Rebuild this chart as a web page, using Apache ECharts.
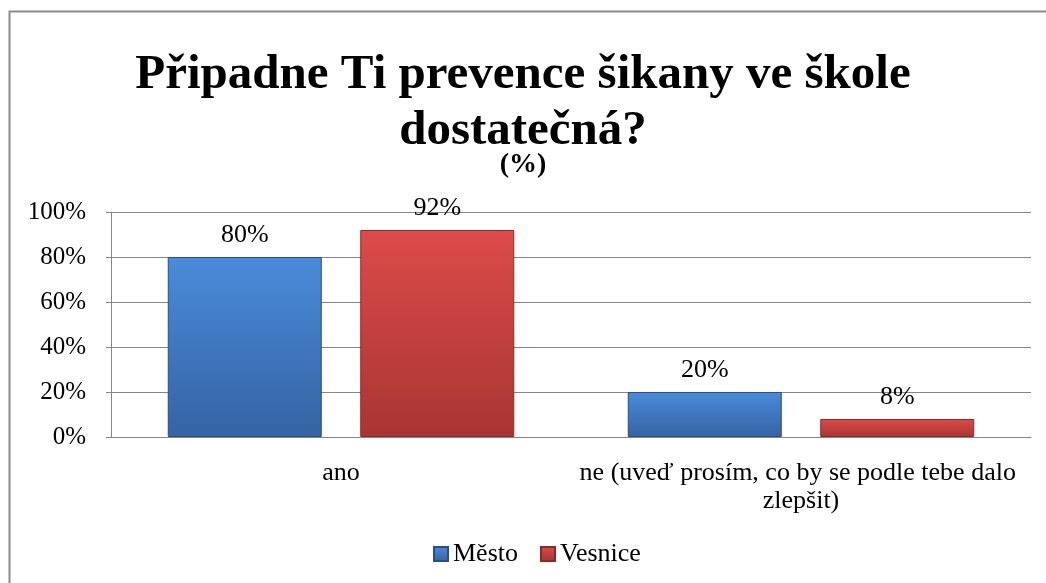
<!DOCTYPE html>
<html>
<head>
<meta charset="utf-8">
<script src="https://cdn.jsdelivr.net/npm/echarts@6/dist/echarts.min.js"></script>
<style>
body { margin: 0; background: #fff; }
#chart { width: 1046px; height: 583px; }
</style>
</head>
<body>
<div id="chart"></div>
<script>
//data
var kategorie = ['ano', 'ne (uveď prosím, co by se podle tebe dalo zlepšit)'];
var mesto = [80, 20];
var vesnice = [92, 8];
var osaY = [0, 20, 40, 60, 80, 100];

var font = '"Liberation Serif", "Times New Roman", serif';

function gradient(top, bottom) {
    return new echarts.graphic.LinearGradient(0, 0, 0, 1, [
        { offset: 0, color: top },
        { offset: 1, color: bottom }
    ]);
}

var popisek = {
    show: true,
    position: 'top',
    distance: 9,
    formatter: '{c}%',
    fontFamily: font,
    fontSize: 26,
    color: '#000'
};

var chart = echarts.init(document.getElementById('chart'));
var option = {
    animation: false,
    textStyle: { fontFamily: font },
    title: [
        {
            text: 'Připadne Ti prevence šikany ve škole\ndostatečná?',
            left: 'center',
            top: 42,
            textStyle: { fontFamily: font, fontSize: 49, fontWeight: 'bold', color: '#000', lineHeight: 56 }
        },
        {
            text: '(%)',
            left: 'center',
            top: 146,
            textStyle: { fontFamily: font, fontSize: 28, fontWeight: 'bold', color: '#000' }
        }
    ],
    //ramecek
    graphic: [
        {
            type: 'rect',
            shape: { x: 9.5, y: 11.5, width: 1100, height: 700 },
            style: { fill: 'none', stroke: '#8c8c8c', lineWidth: 2 },
            silent: true
        }
    ],
    legend: {
        bottom: 11,
        left: 428,
        icon: 'rect',
        itemWidth: 14,
        itemHeight: 14,
        itemGap: 22,
        textStyle: { fontFamily: font, fontSize: 26, color: '#000' },
        data: ['Město', 'Vesnice']
    },
    grid: {
        left: 111,
        right: 15,
        top: 212,
        bottom: 146,
        containLabel: false
    },
    xAxis: {
        type: 'category',
        data: kategorie,
        axisLine: { lineStyle: { color: '#868686', width: 1 } },
        axisTick: { show: false },
        axisLabel: {
            fontFamily: font,
            fontSize: 26,
            color: '#000',
            margin: 22,
            lineHeight: 28,
            width: 480,
            overflow: 'break',
            interval: 0
        }
    },
    yAxis: {
        type: 'value',
        min: 0,
        max: 100,
        interval: 20,
        axisLine: { show: true, lineStyle: { color: '#868686' } },
        axisTick: { show: true, length: 5, lineStyle: { color: '#868686' } },
        splitLine: { lineStyle: { color: '#868686', width: 1 } },
        axisLabel: {
            fontFamily: font,
            fontSize: 25,
            color: '#000',
            margin: 25,
            customValues: osaY,
            formatter: '{value}%'
        }
    },
    series: [
        {
            name: 'Město',
            type: 'bar',
            data: mesto,
            barWidth: 154,
            barGap: '25%',
            itemStyle: {
                color: gradient('#4a8bda', '#3563a3'),
                borderColor: '#2a4f82',
                borderWidth: 1
            },
            label: popisek
        },
        {
            name: 'Vesnice',
            type: 'bar',
            data: vesnice,
            barWidth: 154,
            itemStyle: {
                color: gradient('#dc4b49', '#a83533'),
                borderColor: '#8a2b29',
                borderWidth: 1
            },
            label: popisek
        }
    ]
};
chart.setOption(option);
</script>
</body>
</html>
